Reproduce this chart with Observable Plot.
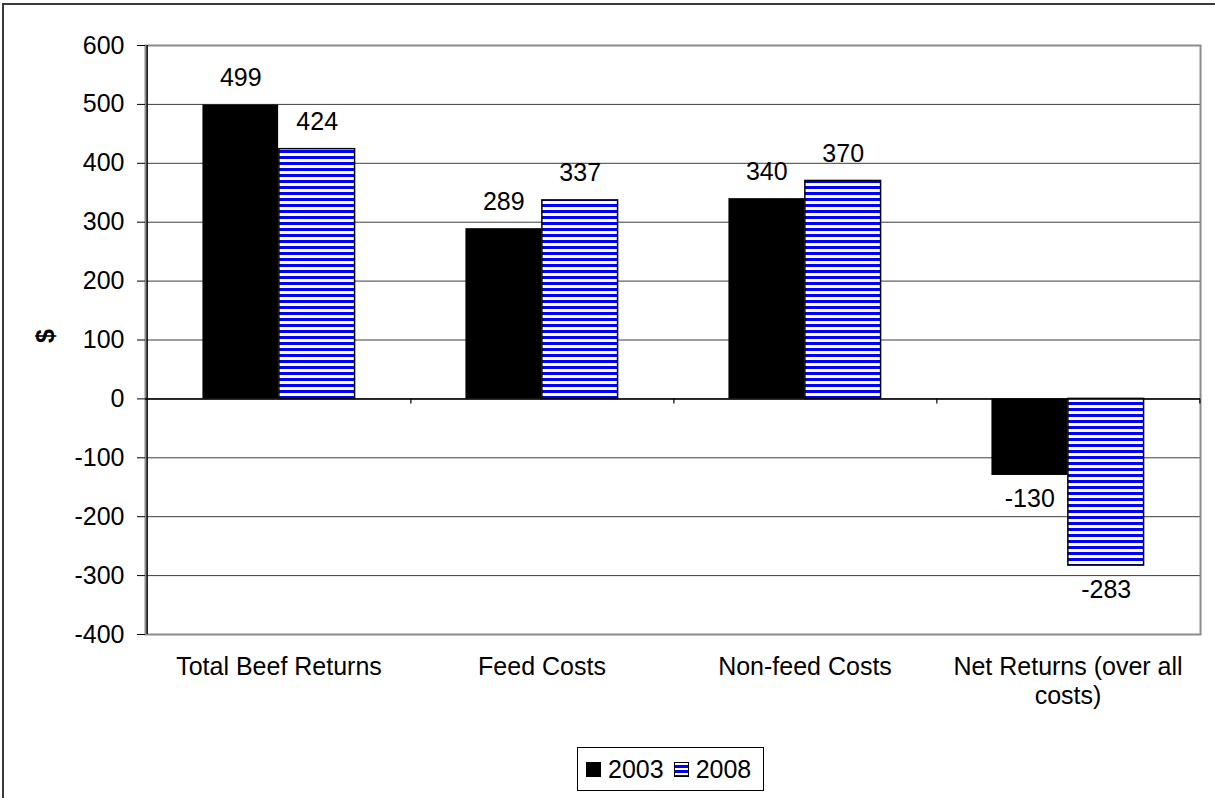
<!DOCTYPE html>
<html>
<head>
<meta charset="utf-8">
<script src="https://cdn.jsdelivr.net/npm/d3@7"></script>
<script src="https://cdn.jsdelivr.net/npm/@observablehq/plot@0.6"></script>
<style>
  html, body { margin: 0; padding: 0; background: #fff; overflow: hidden; }
  #frame { position: absolute; left: 2px; top: 3px; width: 1400px; height: 1000px;
           border-left: 2px solid #3a3a3a; border-top: 2px solid #3a3a3a; pointer-events: none; }
  #chart { position: absolute; left: 0; top: 0; }
  #legend { position: absolute; left: 577px; top: 747px; width: 187px; height: 44px; box-sizing: border-box;
            border: 1.5px solid #000; font-family: "Liberation Sans", Arial, sans-serif; font-size: 25px;
            display: flex; align-items: center; color: #000; background: #fff; }
  .sw { display: inline-block; width: 15px; height: 15px; box-sizing: border-box; }
</style>
</head>
<body>
<div id="chart"></div>
<div id="legend"></div>
<div id="frame"></div>
<script>
// ---- data ----
const categories = ["Total Beef Returns", "Feed Costs", "Non-feed Costs", "Net Returns (over all costs)"];
const series = ["2003", "2008"];
const values2003 = [499, 289, 340, -130];
const values2008 = [424, 337, 370, -283];
const yTicks = [-400, -300, -200, -100, 0, 100, 200, 300, 400, 500, 600];

// ---- layout ----
const W = 1215, H = 730, ML = 145, MR = 15, MT = 45, MB = 96;
const bw = (W - ML - MR) / categories.length;
const bar = bw / 3.45; // Excel gap width ~150%

const rows = categories.map((c, i) => ({category: c, v2003: values2003[i], v2008: values2008[i]}));

const NS = "http://www.w3.org/2000/svg";
function defsMark() {
  const defs = document.createElementNS(NS, "defs");
  const p = document.createElementNS(NS, "pattern");
  p.setAttribute("id", "stripes");
  p.setAttribute("patternUnits", "userSpaceOnUse");
  p.setAttribute("width", "6");
  p.setAttribute("height", "6");
  const r1 = document.createElementNS(NS, "rect");
  r1.setAttribute("width", "6"); r1.setAttribute("height", "6"); r1.setAttribute("fill", "#ffffff");
  const r2 = document.createElementNS(NS, "rect");
  r2.setAttribute("width", "6"); r2.setAttribute("height", "3"); r2.setAttribute("fill", "#0000ff");
  p.appendChild(r1); p.appendChild(r2); defs.appendChild(p);
  return defs;
}

const fmt = d => String(d);

const chart = Plot.plot({
  width: W, height: H,
  marginLeft: ML, marginRight: MR, marginTop: MT, marginBottom: MB,
  style: {fontFamily: "'Liberation Sans', Arial, sans-serif", fontSize: "25px", color: "#000", background: "transparent", overflow: "visible"},
  x: {domain: categories, padding: 0},
  y: {domain: [-400, 600]},
  marks: [
    defsMark,
    Plot.gridY(yTicks.slice(1, -1), {stroke: "#3c3c3c", strokeOpacity: 1, strokeWidth: 1}),
    Plot.frame({stroke: "#8c8c8c", strokeWidth: 2}),
    Plot.barY(rows, {x: "category", y: "v2003", fill: "#000", insetLeft: bw / 2 - bar, insetRight: bw / 2}),
    Plot.barY(rows, {x: "category", y: "v2008", fill: "url(#stripes)", stroke: "#000", strokeWidth: 1.5,
                     insetLeft: bw / 2, insetRight: bw / 2 - bar}),
    Plot.ruleY([0], {stroke: "#000", strokeWidth: 1.5}),
    Plot.ruleX(categories, {x: d => d, dx: bw / 2, y1: 0, y2: -8.5, stroke: "#000", strokeWidth: 1.2}),
    Plot.ruleX(categories.slice(0, 1), {x: d => d, dx: -bw / 2, stroke: "#000", strokeWidth: 1.5}),
    Plot.axisY(yTicks, {anchor: "left", tickSize: 8, tickPadding: 13, tickFormat: fmt, label: null, stroke: "#000", fill: "#000"}),
    Plot.axisX({anchor: "bottom", tickSize: 0, tickPadding: 20, label: null, lineWidth: 10, lineHeight: 1.15, fill: "#000"}),
    // data labels 2003
    Plot.text(rows, {filter: d => d.v2003 >= 0, x: "category", y: "v2003", text: d => fmt(d.v2003), dx: -bar / 2, dy: -27, fill: "#000"}),
    Plot.text(rows, {filter: d => d.v2003 < 0, x: "category", y: "v2003", text: d => fmt(d.v2003), dx: -bar / 2, dy: 24, fill: "#000"}),
    // data labels 2008
    Plot.text(rows, {filter: d => d.v2008 >= 0, x: "category", y: "v2008", text: d => fmt(d.v2008), dx: bar / 2, dy: -27, fill: "#000"}),
    Plot.text(rows, {filter: d => d.v2008 < 0, x: "category", y: "v2008", text: d => fmt(d.v2008), dx: bar / 2, dy: 24, fill: "#000"}),
    // y axis title
    Plot.text(["$"], {frameAnchor: "left", dx: -100, dy: 3, rotate: -90, fontWeight: "bold", fill: "#000"})
  ]
});
document.getElementById("chart").appendChild(chart);

// ---- legend ----
const legend = document.getElementById("legend");
const swStyles = [
  "background:#000; margin-left:8px;",
  "border:1.5px solid #000; background: repeating-linear-gradient(to bottom, #fff 0px, #fff 2.5px, #0000ff 2.5px, #0000ff 5px); margin-left:10px;"
];
series.forEach((s, i) => {
  const sw = document.createElement("span");
  sw.className = "sw";
  sw.setAttribute("style", swStyles[i]);
  legend.appendChild(sw);
  const t = document.createElement("span");
  t.textContent = s;
  t.style.marginLeft = "7px";
  legend.appendChild(t);
});
</script>
</body>
</html>
